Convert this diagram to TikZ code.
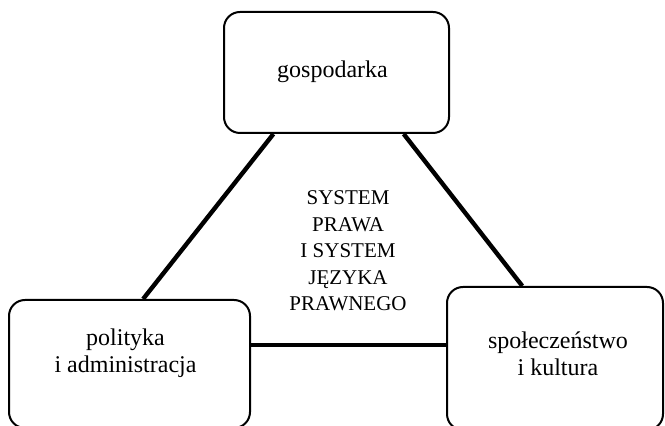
\documentclass[tikz,border=0pt]{standalone}
\usepackage{fontspec}
\setmainfont{Liberation Serif}
\usetikzlibrary{calc}
\begin{document}
\begin{tikzpicture}[x=0.5pt,y=-0.5pt,
  area/.style={draw, line width=1pt, rounded corners=8pt, inner sep=0pt},
  boxtext/.style={align=center, inner sep=0pt, font=\fontsize{12}{13.5}\selectfont},
  coretext/.style={align=center, inner sep=0pt, font=\fontsize{10.5}{13.25}\selectfont},
  link/.style={line width=2.2pt}]
\useasboundingbox (0,0) rectangle (665,426);

% the three spheres
\node[area, minimum width=112.5pt, minimum height=60.5pt] (gosp) at (336.5,72.5) {};
\node[area, minimum width=120.5pt, minimum height=64pt] (pol) at (129.5,364) {};
\node[area, minimum width=108pt, minimum height=71.5pt] (spol) at (555,358.5) {};

\node[boxtext] (gosptext) at (332.5,72) {gospodarka};
\node[boxtext] (poltext) at (125.5,353.5) {polityka\\ i administracja};
\node[boxtext] (spoltext) at (558,353.5) {społeczeństwo\\ i kultura};

% the core in the middle
\node[coretext] (core) at (348,251) {SYSTEM\\ PRAWA\\ I SYSTEM\\ JĘZYKA\\ PRAWNEGO};

% links between the spheres
\draw[link] ($(gosp.south west)!0.222!(gosp.south east)$) -- ($(pol.north west)!0.556!(pol.north east)$);
\draw[link] ($(gosp.south west)!0.796!(gosp.south east)$) -- ($(spol.north west)!0.35!(spol.north east)$);
\draw[link] ($(pol.north east)+(0,46)$) -- ($(spol.north west)+(0,59)$);
\end{tikzpicture}
\end{document}
